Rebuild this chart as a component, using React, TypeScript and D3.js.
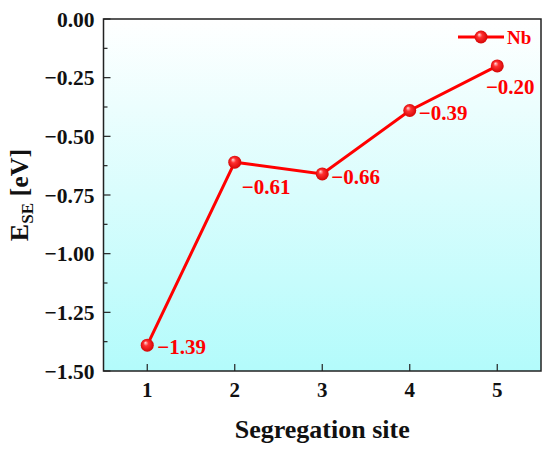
import { useEffect, useRef } from 'react';
import * as d3 from 'd3';

const sites = [1, 2, 3, 4, 5];
const energies = [-1.39, -0.61, -0.66, -0.39, -0.2];
const labelTexts = ['\u22121.39', '\u22120.61', '\u22120.66', '\u22120.39', '\u22120.20'];
const yTicks = [0, -0.25, -0.5, -0.75, -1.0, -1.25, -1.5];
const seriesName = 'Nb';

// label offsets relative to each point (dx, dy, anchor)
const labelOffsets: Array<[number, number, string]> = [
  [10, 9, 'start'],
  [7, 32, 'start'],
  [9, 10, 'start'],
  [9, 9, 'start'],
  [13, 28, 'middle'],
];

export default function App() {
  const svgRef = useRef<SVGSVGElement>(null);

  useEffect(() => {
    if (!svgRef.current) return;
    d3.select(svgRef.current).selectAll('*').remove();

    const width = 550;
    const height = 450;
    const margin = { top: 19, right: 9, bottom: 79, left: 103.5 };
    const font = '"Liberation Serif", "Times New Roman", serif';
    const red = '#ff0000';

    const svg = d3.select(svgRef.current).attr('width', width).attr('height', height);

    const defs = svg.append('defs');
    const bg = defs
      .append('linearGradient')
      .attr('id', 'bg')
      .attr('x1', 0)
      .attr('y1', 0)
      .attr('x2', 0)
      .attr('y2', 1);
    bg.append('stop').attr('offset', '0%').attr('stop-color', '#ffffff');
    bg.append('stop').attr('offset', '100%').attr('stop-color', '#b3fbfb');

    const ball = defs
      .append('radialGradient')
      .attr('id', 'ball')
      .attr('cx', '50%')
      .attr('cy', '50%')
      .attr('r', '55%')
      .attr('fx', '35%')
      .attr('fy', '30%');
    ball.append('stop').attr('offset', '0%').attr('stop-color', '#ffe0e0');
    ball.append('stop').attr('offset', '35%').attr('stop-color', '#ff3030');
    ball.append('stop').attr('offset', '100%').attr('stop-color', '#d00000');

    const w = width - margin.left - margin.right;
    const h = height - margin.top - margin.bottom;

    const x = d3.scaleLinear().domain([0.5, 5.5]).range([0, w]);
    const y = d3.scaleLinear().domain([-1.5, 0]).range([h, 0]);

    const g = svg.append('g').attr('transform', `translate(${margin.left},${margin.top})`);

    g.append('rect').attr('width', w).attr('height', h).attr('fill', 'url(#bg)');

    // y ticks (inward) with minor ticks
    const minor = d3.range(0, yTicks.length - 1).map((i) => (yTicks[i] + yTicks[i + 1]) / 2);
    g.selectAll('.ymaj')
      .data(yTicks)
      .enter()
      .append('line')
      .attr('x1', 0)
      .attr('x2', 7)
      .attr('y1', (d) => y(d))
      .attr('y2', (d) => y(d))
      .attr('stroke', '#222')
      .attr('stroke-width', 1.2);
    g.selectAll('.ymin')
      .data(minor)
      .enter()
      .append('line')
      .attr('x1', 0)
      .attr('x2', 4)
      .attr('y1', (d) => y(d))
      .attr('y2', (d) => y(d))
      .attr('stroke', '#222')
      .attr('stroke-width', 1.2);
    g.selectAll('.ylab')
      .data(yTicks)
      .enter()
      .append('text')
      .attr('x', -9)
      .attr('y', (d) => y(d))
      .attr('dy', '0.35em')
      .attr('text-anchor', 'end')
      .attr('font-family', font)
      .attr('font-weight', 'bold')
      .attr('font-size', '21.5px')
      .attr('fill', '#111')
      .text((d) => (d < 0 ? '\u2212' : '') + Math.abs(d).toFixed(2));

    // x ticks (inward)
    g.selectAll('.xmaj')
      .data(sites)
      .enter()
      .append('line')
      .attr('x1', (d) => x(d))
      .attr('x2', (d) => x(d))
      .attr('y1', h)
      .attr('y2', h - 7)
      .attr('stroke', '#222')
      .attr('stroke-width', 1.2);
    g.selectAll('.xlab')
      .data(sites)
      .enter()
      .append('text')
      .attr('x', (d) => x(d))
      .attr('y', h + 26)
      .attr('text-anchor', 'middle')
      .attr('font-family', font)
      .attr('font-weight', 'bold')
      .attr('font-size', '21px')
      .attr('fill', '#111')
      .text((d) => String(d));

    // frame
    g.append('rect')
      .attr('width', w)
      .attr('height', h)
      .attr('fill', 'none')
      .attr('stroke', '#222')
      .attr('stroke-width', 1.5);

    // axis titles
    g.append('text')
      .attr('x', w / 2)
      .attr('y', h + 67)
      .attr('text-anchor', 'middle')
      .attr('font-family', font)
      .attr('font-weight', 'bold')
      .attr('font-size', '26px')
      .attr('fill', '#111')
      .text('Segregation site');

    const yt = g
      .append('text')
      .attr('transform', `translate(${-76},${h / 2}) rotate(-90)`)
      .attr('text-anchor', 'middle')
      .attr('font-family', font)
      .attr('font-weight', 'bold')
      .attr('font-size', '26px')
      .attr('fill', '#111');
    yt.append('tspan').text('E');
    yt.append('tspan').attr('font-size', '17px').attr('dy', 5).text('SE');
    yt.append('tspan').attr('dy', -5).text(' [eV]');

    // line
    const pts = sites.map((s, i) => [s, energies[i]] as [number, number]);
    const line = d3
      .line<[number, number]>()
      .x((d) => x(d[0]))
      .y((d) => y(d[1]));
    g.append('path')
      .datum(pts)
      .attr('d', line)
      .attr('fill', 'none')
      .attr('stroke', red)
      .attr('stroke-width', 3);

    g.selectAll('.pt')
      .data(pts)
      .enter()
      .append('circle')
      .attr('cx', (d) => x(d[0]))
      .attr('cy', (d) => y(d[1]))
      .attr('r', 6.5)
      .attr('fill', 'url(#ball)');

    g.selectAll('.vlab')
      .data(pts)
      .enter()
      .append('text')
      .attr('x', (d, i) => x(d[0]) + labelOffsets[i][0])
      .attr('y', (d, i) => y(d[1]) + labelOffsets[i][1])
      .attr('text-anchor', (d, i) => labelOffsets[i][2])
      .attr('font-family', font)
      .attr('font-weight', 'bold')
      .attr('font-size', '21px')
      .attr('fill', red)
      .text((d, i) => labelTexts[i]);

    // legend
    const lg = g.append('g').attr('transform', `translate(${458 - margin.left},${37 - margin.top})`);
    lg.append('line').attr('x1', 0).attr('x2', 46).attr('stroke', red).attr('stroke-width', 3);
    lg.append('circle').attr('cx', 23).attr('r', 6.5).attr('fill', 'url(#ball)');
    lg.append('text')
      .attr('x', 49)
      .attr('dy', '0.35em')
      .attr('font-family', font)
      .attr('font-weight', 'bold')
      .attr('font-size', '19px')
      .attr('fill', red)
      .text(seriesName);
  }, []);

  return <svg ref={svgRef} style={{ position: 'absolute', left: 0, top: 0 }}></svg>;
}
